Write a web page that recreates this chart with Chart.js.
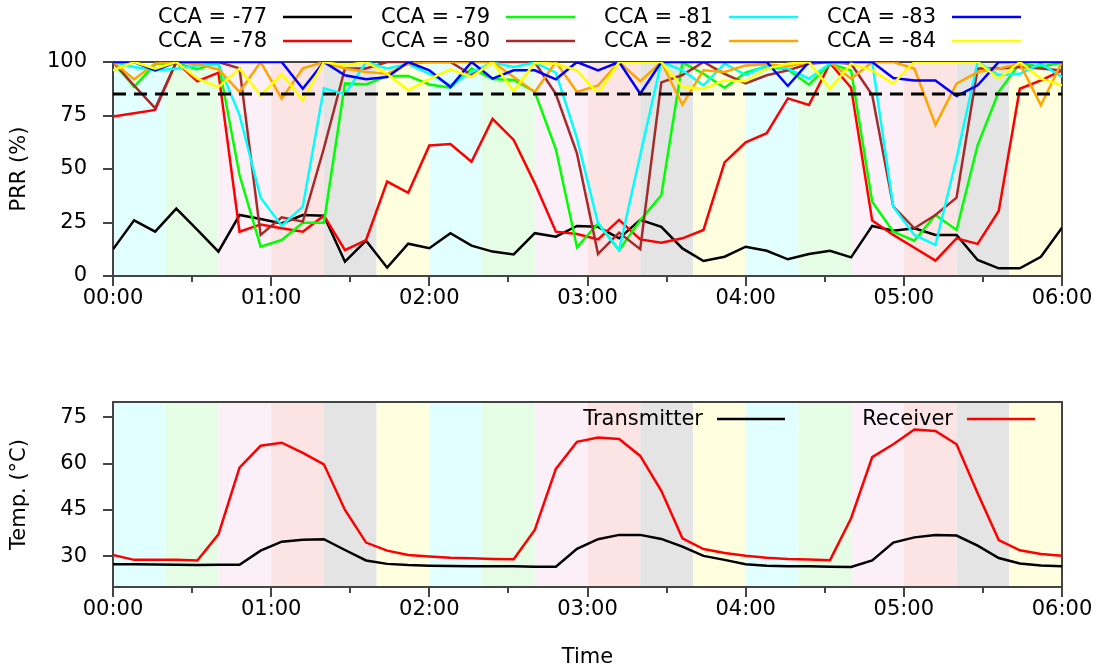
<!DOCTYPE html>
<html>
<head>
<meta charset="utf-8">
<script src="https://cdn.jsdelivr.net/npm/chart.js@4.4.1/dist/chart.umd.min.js"></script>
<style>
  html, body { margin: 0; padding: 0; background: #ffffff; }
  #wrap { position: relative; width: 1101px; height: 670px; overflow: hidden; }
  #wrap canvas { position: absolute; left: 0; }
  #prrChart { top: 0; }
  #tempChart { top: 330px; }
</style>
</head>
<body>
<div id="wrap">
  <canvas id="prrChart" width="1101" height="330"></canvas>
  <canvas id="tempChart" width="1101" height="340"></canvas>
</div>
<script>
// Sample times, minutes after 00:00 (one sample every 8 minutes)
const minutes = [0, 8, 16, 24, 32, 40, 48, 56, 64, 72, 80, 88, 96, 104, 112, 120,
  128, 136, 144, 152, 160, 168, 176, 184, 192, 200, 208, 216, 224, 232, 240,
  248, 256, 264, 272, 280, 288, 296, 304, 312, 320, 328, 336, 344, 352, 360];

// Packet reception ratio (%) per CCA threshold (dBm)
const prrCca77 = [12.5, 26, 20.7, 31.5, 21.5, 11.4, 28.5, 26.6, 24.6, 28.5, 28.2, 6.7, 16.5, 3.9, 15.1, 13,
  20, 14.2, 11.4, 10.1, 20, 18.4, 23.4, 23, 17.6, 26.2, 23, 12.9, 7, 9, 13.7,
  11.8, 7.8, 10.3, 11.8, 8.7, 23.4, 21.2, 22.3, 19.2, 19.2, 7.5, 3.6, 3.6, 9, 22.6];
const prrCca78 = [74.5, 76, 77.6, 100, 91, 95, 20.7, 24.1, 22.3, 20.7, 28.2, 12.1, 16.8, 44.1, 38.9, 61,
  61.7, 53.4, 73.4, 63.6, 43.3, 20.7, 19.6, 17.1, 26.2, 17.1, 15.6, 17.6, 21.5, 53.1, 62.5,
  66.7, 83, 79.9, 99.4, 88, 25.9, 19.2, 13.2, 7.2, 17.6, 15, 30.4, 87.5, 91.4, 96.1];
const prrCca79 = [100, 88.4, 99, 99.5, 96.6, 99.7, 47.2, 13.7, 16.8, 24.9, 24.9, 90, 89.5, 93.5, 93.5, 89.5,
  88, 97, 92.1, 91.6, 86.1, 59.2, 13.4, 24.6, 12.1, 26, 37.7, 99.8, 94.5, 88, 95,
  98, 96.5, 89.4, 99.2, 96.1, 34.7, 20.7, 16.5, 28.5, 21.5, 61.2, 86.1, 99.4, 97.8, 99.7];
const prrCca80 = [100, 89, 78.4, 100, 100, 100, 97, 19.2, 27.4, 25.4, 59.7, 97, 97, 100, 100, 100,
  100, 94, 100, 100, 100, 85, 57.3, 10.3, 20.3, 12.5, 90.5, 93.9, 100, 94.5, 90,
  93.8, 96.1, 99.2, 100, 99.2, 84.6, 32.4, 22.3, 28.5, 36.6, 97, 97, 97.7, 97, 96];
const prrCca81 = [100, 97.7, 96.1, 96.9, 98.4, 99, 75.2, 36.6, 23.5, 32.4, 87.7, 84.9, 100, 97, 99, 94.5,
  89.1, 95.3, 99.7, 97.7, 99.7, 95, 64.3, 24.6, 12.1, 56.5, 100, 96.1, 89.1, 99.2, 94,
  98.4, 96.9, 92.2, 99.2, 100, 100, 32.4, 19.2, 14.5, 55, 100, 93.8, 94.5, 99.2, 93];
const prrCca82 = [100, 91.9, 99.2, 100, 99, 96.5, 86, 100, 82.9, 97, 100, 97, 95.3, 94.5, 99.2, 100,
  100, 100, 100, 93, 86, 100, 86, 89.1, 100, 91, 100, 80.1, 96.1, 95.3, 98.4,
  99, 98, 100, 100, 92.2, 100, 100, 96.9, 70.6, 89.9, 95.3, 96.9, 99.2, 79.8, 100];
const prrCca83 = [100, 100, 96.1, 100, 100, 100, 100, 100, 100, 87.5, 100, 93.8, 91.9, 93, 100, 96.1,
  88.3, 100, 92.2, 96.1, 96.1, 91.9, 100, 96.1, 100, 85.2, 100, 100, 100, 100, 100,
  100, 88.8, 100, 100, 100, 100, 92.5, 91.4, 91.4, 84.1, 89.1, 100, 100, 100, 100];
const prrCca84 = [96.1, 100, 96.9, 100, 92.2, 88.3, 96.9, 84.4, 94.5, 82.1, 100, 98.4, 100, 94.5, 86.8, 92,
  96.6, 93, 100, 86.3, 99.7, 99.2, 96.1, 85.2, 100, 100, 100, 88.3, 87.5, 91.4, 91,
  96.9, 99.2, 100, 87.5, 99.2, 96.1, 89.9, 100, 100, 100, 100, 92.2, 100, 92.2, 89.1];

// Reference PRR level drawn as the dashed line
const prrThreshold = 85;

// Node temperatures (°C)
const tempTransmitter = [27.4, 27.4, 27.3, 27.2, 27.1, 27.2, 27.2, 31.8, 34.7, 35.3, 35.5, 32, 28.6, 27.5, 27.1, 26.9,
  26.8, 26.7, 26.7, 26.7, 26.6, 26.6, 32.4, 35.5, 36.9, 36.9, 35.6, 33.1, 30.1, 28.8, 27.4,
  26.9, 26.7, 26.7, 26.6, 26.5, 28.6, 34.4, 36.1, 36.9, 36.7, 33.4, 29.4, 27.6, 27, 26.7];
const tempReceiver = [30.4, 28.8, 28.8, 28.8, 28.6, 37.1, 58.7, 65.8, 66.8, 63.5, 59.8, 45, 34.4, 31.8, 30.4, 29.9,
  29.5, 29.3, 29.1, 29, 38.5, 58.3, 67.1, 68.5, 68, 62.5, 51.2, 35.8, 32.3, 31, 30.1,
  29.5, 29.1, 28.9, 28.7, 42.3, 62.1, 66.3, 71.1, 70.6, 66.3, 50.4, 35.2, 31.9, 30.7, 30.1];

// Axis tick values
const prrTicks = [0, 25, 50, 75, 100];
const tempTicks = [30, 45, 60, 75];

// Heating-phase background stripes, 20 minutes each, repeating
const bandColors = ['#e1ffff', '#e5fce5', '#fcf0f8', '#fde4e4', '#e4e4e4', '#ffffe0'];
const bandMinutes = 20;

const FONT = "'DejaVu Sans', 'Liberation Sans', sans-serif";
const FONT_SIZE = 21;
const FRAME_COLOR = '#444444';
const LINE_WIDTH = 2.5;

function hhmm(m) {
  const h = Math.floor(m / 60), mm = m % 60;
  return String(h).padStart(2, '0') + ':' + String(mm).padStart(2, '0');
}

function pts(values) {
  return values.map((v, i) => ({ x: minutes[i], y: v }));
}

// Stripes, plot frame and outward tick marks
const plotFrame = {
  id: 'plotFrame',
  beforeDatasetsDraw(chart) {
    const { ctx, chartArea: a, scales: { x } } = chart;
    ctx.save();
    let k = 0;
    for (let t = x.min; t < x.max; t += bandMinutes, k++) {
      const x0 = x.getPixelForValue(t);
      const x1 = x.getPixelForValue(Math.min(t + bandMinutes, x.max));
      ctx.fillStyle = bandColors[k % bandColors.length];
      ctx.fillRect(x0, a.top, x1 - x0, a.bottom - a.top);
    }
    ctx.strokeStyle = FRAME_COLOR;
    ctx.lineWidth = 2;
    ctx.strokeRect(a.left, a.top, a.right - a.left, a.bottom - a.top);
    ctx.restore();
  },
  afterDraw(chart) {
    const { ctx, chartArea: a, scales: { x, y } } = chart;
    ctx.save();
    ctx.strokeStyle = FRAME_COLOR;
    ctx.lineWidth = 2;
    ctx.beginPath();
    x.ticks.forEach(t => {
      const px = Math.round(x.getPixelForValue(t.value));
      const len = t.value % 60 === 0 ? 10 : 6;
      ctx.moveTo(px, a.bottom);
      ctx.lineTo(px, a.bottom + len);
    });
    y.ticks.forEach(t => {
      const py = Math.round(y.getPixelForValue(t.value));
      ctx.moveTo(a.left - 10, py);
      ctx.lineTo(a.left, py);
    });
    ctx.stroke();
    ctx.restore();
  }
};

// Legend drawn as "label ——" pairs, laid out column by column
const keyLegend = {
  id: 'keyLegend',
  afterDraw(chart, args, opts) {
    const { ctx } = chart;
    ctx.save();
    ctx.font = FONT_SIZE + 'px ' + FONT;
    ctx.fillStyle = '#000000';
    ctx.textAlign = 'right';
    ctx.textBaseline = 'middle';
    const items = chart.data.datasets.filter(d => d.inLegend);
    items.forEach((d, i) => {
      const col = Math.floor(i / opts.rows), row = i % opts.rows;
      const tx = opts.textRight[col];
      const ty = opts.top + row * opts.rowGap;
      ctx.fillText(d.label, tx, ty + 1);
      ctx.strokeStyle = d.borderColor;
      ctx.lineWidth = LINE_WIDTH;
      ctx.beginPath();
      ctx.moveTo(tx + opts.gap, ty);
      ctx.lineTo(tx + opts.gap + opts.sample, ty);
      ctx.stroke();
    });
    ctx.restore();
  }
};

function xAxis(height, titleText) {
  return {
    type: 'linear', min: 0, max: 360,
    border: { display: false },
    grid: { drawOnChartArea: false, drawTicks: true, tickLength: 10, tickColor: 'rgba(0,0,0,0)' },
    ticks: {
      stepSize: 30, autoSkip: false, maxRotation: 0, padding: 0,
      color: '#000000', font: { family: FONT, size: FONT_SIZE },
      callback: v => (v % 60 === 0 ? hhmm(v) : '')
    },
    title: {
      display: !!titleText, text: titleText || '', color: '#000000',
      font: { family: FONT, size: FONT_SIZE }, padding: { top: 0, bottom: 0 }
    },
    afterFit: s => { s.height = height; }
  };
}

function yAxis(min, max, tickValues, titleText) {
  return {
    type: 'linear', min: min, max: max,
    border: { display: false },
    grid: { drawOnChartArea: false, drawTicks: true, tickLength: 10, tickColor: 'rgba(0,0,0,0)' },
    afterBuildTicks: s => { s.ticks = tickValues.map(v => ({ value: v })); },
    ticks: {
      padding: 16, color: '#000000', font: { family: FONT, size: FONT_SIZE },
      callback: v => String(v)
    },
    title: {
      display: true, text: titleText, color: '#000000',
      font: { family: FONT, size: FONT_SIZE }, padding: { top: 7, bottom: 0 }
    },
    afterFit: s => { s.width = 113; }
  };
}

function series(label, values, color, order) {
  return {
    label: label, data: pts(values), borderColor: color, backgroundColor: color,
    borderWidth: LINE_WIDTH, pointRadius: 0, tension: 0, fill: false, inLegend: true, order: order
  };
}

const prrSeries = [
  ['CCA = -77', prrCca77, '#000000'],
  ['CCA = -78', prrCca78, '#ff0000'],
  ['CCA = -79', prrCca79, '#00ff00'],
  ['CCA = -80', prrCca80, '#a52a2a'],
  ['CCA = -81', prrCca81, '#00ffff'],
  ['CCA = -82', prrCca82, '#ffa500'],
  ['CCA = -83', prrCca83, '#0000ff'],
  ['CCA = -84', prrCca84, '#ffff00']
];

const prrDatasets = prrSeries.map((s, i) => series(s[0], s[1], s[2], 20 - i));
prrDatasets.push({
  label: 'threshold',
  data: [{ x: 0, y: prrThreshold }, { x: 360, y: prrThreshold }],
  borderColor: '#000000', borderWidth: 3, borderDash: [13, 8],
  pointRadius: 0, fill: false, inLegend: false, order: 0
});

new Chart(document.getElementById('prrChart'), {
  type: 'line',
  data: { datasets: prrDatasets },
  options: {
    responsive: false, animation: false, devicePixelRatio: 1,
    layout: { padding: { top: 62, right: 39, bottom: 0, left: 0 } },
    scales: {
      x: xAxis(54, null),
      y: yAxis(0, 100, prrTicks, 'PRR (%)')
    },
    plugins: {
      legend: { display: false },
      tooltip: { enabled: false },
      keyLegend: { rows: 2, rowGap: 24, top: 17, textRight: [267, 490, 713, 936], gap: 16, sample: 69 }
    }
  },
  plugins: [plotFrame, keyLegend]
});

new Chart(document.getElementById('tempChart'), {
  type: 'line',
  data: {
    datasets: [
      series('Transmitter', tempTransmitter, '#000000', 2),
      series('Receiver', tempReceiver, '#ff0000', 1)
    ]
  },
  options: {
    responsive: false, animation: false, devicePixelRatio: 1,
    layout: { padding: { top: 72, right: 39, bottom: 0, left: 0 } },
    scales: {
      x: xAxis(83, 'Time'),
      y: yAxis(20, 80, tempTicks, 'Temp. (°C)')
    },
    plugins: {
      legend: { display: false },
      tooltip: { enabled: false },
      keyLegend: { rows: 1, rowGap: 0, top: 89, textRight: [703, 953], gap: 14, sample: 68 }
    }
  },
  plugins: [plotFrame, keyLegend]
});
</script>
</body>
</html>
